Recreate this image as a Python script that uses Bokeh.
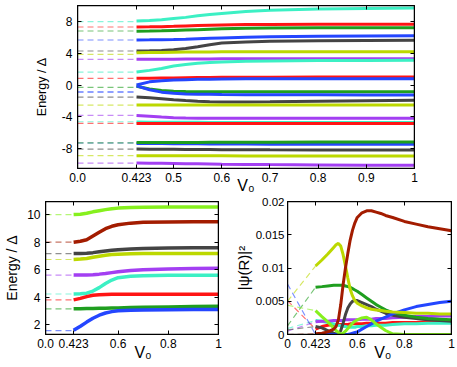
from bokeh.plotting import figure
from bokeh.layouts import column, row
from bokeh.models import FixedTicker, Range1d, LinearAxis, BoxAnnotation
from bokeh.embed import file_html
from bokeh.resources import INLINE

FONT = "Liberation Sans"
BREAK = 0.423

# ---------------- data ----------------
# V0 samples for energy panels
V0_E = [0.423, 0.45, 0.475, 0.5, 0.525, 0.55, 0.575, 0.6, 0.65, 0.7, 0.8, 0.9, 1.0]

# top panel: energy at V0 = 0 (dashed) and curves for V0 >= 0.423
TOP_E0 = [8.0, 7.33, 6.83, 5.69, 4.3, 3.88, 3.25, 1.64, 0.85, -0.88, -0.3,
          -0.88, -1.52, -2.53, -3.84, -4.64, -4.85, -7.33, -7.3, -8.09, -8.93, -9.86]
top_aqua_a = [8.1, 8.15, 8.25, 8.4, 8.55, 8.75, 8.9, 9.05, 9.3, 9.45, 9.6, 9.68, 9.72]
top_red_a = [7.33, 7.35, 7.38, 7.42, 7.47, 7.52, 7.56, 7.6, 7.64, 7.66, 7.67, 7.67, 7.67]
top_green_a = [6.8, 6.82, 6.85, 6.9, 6.95, 7.0, 7.05, 7.1, 7.17, 7.2, 7.23, 7.24, 7.25]
top_blue_a = [5.7, 5.71, 5.73, 5.76, 5.8, 5.85, 5.9, 5.95, 6.03, 6.1, 6.17, 6.21, 6.23]
top_gray_a = [4.3, 4.32, 4.37, 4.47, 4.62, 4.85, 5.1, 5.3, 5.45, 5.52, 5.58, 5.62, 5.65]
top_yellow_a = [4.08, 4.1, 4.12, 4.14, 4.16, 4.17, 4.18, 4.19, 4.2, 4.2, 4.2, 4.2, 4.2]
top_purple_a = [3.25, 3.25, 3.26, 3.27, 3.28, 3.29, 3.3, 3.31, 3.32, 3.32, 3.33, 3.33, 3.33]
top_aqua_b = [1.64, 1.85, 2.1, 2.4, 2.6, 2.75, 2.85, 2.92, 3.0, 3.05, 3.09, 3.11, 3.12]
top_red_b = [0.85, 0.86, 0.88, 0.9, 0.92, 0.94, 0.96, 0.97, 0.98, 0.99, 1.0, 1.0, 1.0]
top_blue_b = [0.0, 0.4, 0.55, 0.63, 0.68, 0.72, 0.74, 0.76, 0.78, 0.79, 0.8, 0.8, 0.8]
top_green_b = [-0.15, -0.5, -0.68, -0.78, -0.82, -0.84, -0.85, -0.85, -0.85, -0.85, -0.85, -0.85, -0.85]
top_blue_c = [-0.1, -0.6, -0.9, -1.05, -1.12, -1.16, -1.18, -1.2, -1.22, -1.23, -1.24, -1.25, -1.26]
top_gray_b = [-1.52, -1.6, -1.72, -1.85, -1.97, -2.06, -2.12, -2.15, -2.15, -2.12, -2.05, -1.99, -1.94]
top_yellow_b = [-2.52, -2.52, -2.52, -2.52, -2.52, -2.52, -2.52, -2.52, -2.52, -2.52, -2.52, -2.52, -2.52]
top_purple_b = [-3.86, -3.95, -4.05, -4.13, -4.18, -4.2, -4.21, -4.21, -4.21, -4.2, -4.2, -4.2, -4.2]
top_aqua_c = [-4.68, -4.69, -4.7, -4.71, -4.72, -4.72, -4.73, -4.73, -4.74, -4.74, -4.75, -4.75, -4.75]
top_red_c = [-4.85, -4.85, -4.85, -4.85, -4.85, -4.85, -4.85, -4.85, -4.85, -4.85, -4.85, -4.85, -4.85]
top_blue_d = [-7.38, -7.39, -7.4, -7.41, -7.42, -7.43, -7.44, -7.45, -7.46, -7.47, -7.48, -7.49, -7.5]
top_green_c = [-7.27, -7.27, -7.26, -7.26, -7.25, -7.25, -7.24, -7.24, -7.23, -7.22, -7.21, -7.2, -7.2]
top_gray_c = [-8.1, -8.11, -8.12, -8.13, -8.14, -8.15, -8.16, -8.17, -8.18, -8.19, -8.2, -8.2, -8.2]
top_yellow_c = [-8.93, -8.93, -8.94, -8.94, -8.94, -8.95, -8.95, -8.95, -8.96, -8.96, -8.97, -8.97, -8.97]
top_purple_c = [-9.87, -9.88, -9.9, -9.92, -9.94, -9.96, -9.98, -10.0, -10.03, -10.06, -10.1, -10.13, -10.15]

# lower-left panel
BL_E0 = [10.0, 8.0, 7.17, 6.74, 5.61, 4.24, 3.81, 3.16, 1.58]
bl_lime = [10.0, 10.03, 10.1, 10.2, 10.28, 10.36, 10.42, 10.47, 10.52, 10.54, 10.55, 10.55, 10.55]
bl_dkred = [8.0, 8.07, 8.18, 8.45, 8.72, 8.98, 9.15, 9.26, 9.38, 9.44, 9.47, 9.48, 9.48]
bl_gray = [7.17, 7.18, 7.2, 7.24, 7.3, 7.36, 7.41, 7.45, 7.5, 7.54, 7.57, 7.59, 7.6]
bl_yellow = [6.74, 6.77, 6.82, 6.9, 6.98, 7.05, 7.1, 7.13, 7.16, 7.17, 7.17, 7.17, 7.17]
bl_purple = [5.61, 5.61, 5.62, 5.64, 5.68, 5.73, 5.79, 5.85, 5.94, 6.0, 6.06, 6.09, 6.11]
bl_aqua = [4.24, 4.25, 4.3, 4.45, 4.7, 5.0, 5.25, 5.42, 5.53, 5.57, 5.59, 5.59, 5.59]
bl_red = [3.81, 3.92, 4.05, 4.15, 4.19, 4.21, 4.22, 4.22, 4.22, 4.22, 4.22, 4.22, 4.22]
bl_green = [3.16, 3.17, 3.18, 3.19, 3.2, 3.21, 3.22, 3.23, 3.25, 3.27, 3.3, 3.33, 3.35]
bl_blue = [1.6, 1.9, 2.2, 2.48, 2.7, 2.86, 2.96, 3.02, 3.06, 3.08, 3.1, 3.11, 3.12]

# lower-right panel: |psi(R)|^2
V0_P = [0.423, 0.45, 0.475, 0.5, 0.51, 0.52, 0.53, 0.54, 0.55, 0.56, 0.57, 0.58, 0.59,
        0.6, 0.62, 0.64, 0.66, 0.68, 0.7, 0.72, 0.75, 0.8, 0.85, 0.9, 0.95, 1.0]
BR_P0 = [0.0051, 0.0009, 0.0005, 0.0007, 0.0013, 0.0076, 0.0044, 0.005, 0.0]
br_red = [0.0008, 0.0012, 0.0014, 0.0015, 0.0015, 0.0015, 0.0015, 0.0015, 0.0015, 0.0015, 0.0016, 0.0016, 0.0016,
          0.0016, 0.0016, 0.0017, 0.0017, 0.0017, 0.0017, 0.0017, 0.0018, 0.0018, 0.0018, 0.0019, 0.0019, 0.0019]
br_aqua = [0.0021, 0.002, 0.0018, 0.0016, 0.0015, 0.0014, 0.0013, 0.0012, 0.0012, 0.0011, 0.0011, 0.0011, 0.0011,
           0.0012, 0.0012, 0.0013, 0.0013, 0.0014, 0.0014, 0.0014, 0.0015, 0.0016, 0.0016, 0.0017, 0.0017, 0.0017]
br_purple = [0.0019, 0.002, 0.002, 0.0021, 0.0021, 0.0021, 0.0021, 0.0021, 0.0022, 0.0022, 0.0022, 0.0022, 0.0022,
             0.0022, 0.0023, 0.0023, 0.0023, 0.0024, 0.0024, 0.0024, 0.0025, 0.0026, 0.0027, 0.0027, 0.0028, 0.0028]
br_gray = [0.0012, 0.001, 0.0006, 0.0002, 0.0001, 0.0001, 0.0006, 0.0017, 0.003, 0.004, 0.0046, 0.005, 0.0051,
           0.0051, 0.0048, 0.0045, 0.0042, 0.0038, 0.0035, 0.0032, 0.0029, 0.0026, 0.0024, 0.0022, 0.0021, 0.002]
br_green = [0.0071, 0.0072, 0.0073, 0.0074, 0.0074, 0.0074, 0.0074, 0.0074, 0.0073, 0.0072, 0.0071, 0.0069, 0.0067,
            0.0065, 0.006, 0.0055, 0.005, 0.0045, 0.0041, 0.0037, 0.0033, 0.0029, 0.0026, 0.0024, 0.0023, 0.0022]
br_blue = [0.0, 0.0, 0.0, 0.0, 0.0, 0.0, 0.0, 0.0, 0.0, 0.0, 0.0001, 0.0002, 0.0003,
           0.0004, 0.0008, 0.0012, 0.0016, 0.002, 0.0023, 0.0026, 0.0031, 0.0037, 0.0042, 0.0045, 0.0048, 0.005]
br_lime = [0.0036, 0.0027, 0.0019, 0.001, 0.0006, 0.0003, 0.0, 0.0002, 0.0005, 0.0009, 0.0013, 0.0017, 0.002,
           0.0022, 0.0025, 0.0026, 0.0022, 0.0016, 0.0011, 0.0006, 0.0001, 0.0, 0.0, 0.0, 0.0, 0.0]
br_yellow = [0.0103, 0.0112, 0.0121, 0.0131, 0.0135, 0.0137, 0.0133, 0.012, 0.0103, 0.0085, 0.0068, 0.0058, 0.0051,
             0.0047, 0.0043, 0.004, 0.0038, 0.0037, 0.0036, 0.0035, 0.0034, 0.0033, 0.0032, 0.0032, 0.0031, 0.0031]
br_dkred = [0.0001, 0.0002, 0.0004, 0.0008, 0.0012, 0.0022, 0.0045, 0.0075, 0.01, 0.0122, 0.0142, 0.0157, 0.0168,
            0.0176, 0.0183, 0.0186, 0.0186, 0.0184, 0.0182, 0.0179, 0.0176, 0.017, 0.0166, 0.0162, 0.0159, 0.0156]

# tick labels
TOP_XT = [0.0, 0.423, 0.5, 0.6, 0.7, 0.8, 0.9, 1.0]
TOP_XL = ["0.0", "0.423", "0.5", "0.6", "0.7", "0.8", "0.9", "1"]
TOP_YT = [-8, -4, 0, 4, 8]
TOP_YL = ["-8", "-4", "0", "4", "8"]
BL_XT = [0.0, 0.423, 0.6, 0.8, 1.0]
BL_XL = ["0.0", "0.423", "0.6", "0.8", "1"]
BL_YT = [2, 4, 6, 8, 10]
BL_YL = ["2", "4", "6", "8", "10"]
BR_XT = [0.0, 0.423, 0.6, 0.8, 1.0]
BR_XL = ["0", "0.423", "0.6", "0.8", "1"]
BR_YT = [0.0, 0.005, 0.01, 0.015, 0.02]
BR_YL = ["0", "0.005", "0.01", "0.015", "0.02"]

# ---------------- styles ----------------
AQUA = "#3cf0c4"
RED = "#ff1414"
GREEN = "#1f9e1f"
BLUE = "#2446ff"
GRAY = "#444444"
YELLOW = "#bcd800"
PURPLE = "#a33ff2"
DKRED = "#a31c00"
LIME = "#86f01e"

TOP_SERIES = [top_aqua_a, top_red_a, top_green_a, top_blue_a, top_gray_a, top_yellow_a, top_purple_a,
              top_aqua_b, top_red_b, top_blue_b, top_green_b, top_blue_c, top_gray_b, top_yellow_b,
              top_purple_b, top_aqua_c, top_red_c, top_blue_d, top_green_c, top_gray_c, top_yellow_c,
              top_purple_c]
TOP_COLORS = [AQUA, RED, GREEN, BLUE, GRAY, YELLOW, PURPLE, AQUA, RED, BLUE, GREEN, BLUE, GRAY, YELLOW,
              PURPLE, AQUA, RED, BLUE, GREEN, GRAY, YELLOW, PURPLE]
BL_SERIES = [bl_lime, bl_dkred, bl_gray, bl_yellow, bl_purple, bl_aqua, bl_red, bl_green, bl_blue]
BL_COLORS = [LIME, DKRED, GRAY, YELLOW, PURPLE, AQUA, RED, GREEN, BLUE]
BR_SERIES = [br_red, br_aqua, br_purple, br_gray, br_green, br_blue, br_lime, br_yellow, br_dkred]
BR_COLORS = [RED, AQUA, PURPLE, GRAY, GREEN, BLUE, LIME, YELLOW, DKRED]

NB = "\u00a0"


def to_u(v, gap):
    # compressed segment 0..0.423, then linear
    return v * gap / BREAK if v <= BREAK else gap + (v - BREAK)


def style_axis(ax, ticks, labels, size, std, show=True):
    ax.ticker = FixedTicker(ticks=ticks)
    ax.major_tick_in = 4
    ax.major_tick_out = 0
    ax.minor_tick_line_color = None
    ax.major_tick_line_color = "black"
    ax.axis_line_color = "black"
    ax.major_label_text_font = FONT
    ax.major_label_text_color = "black"
    if show:
        ax.major_label_overrides = {t: l for t, l in zip(ticks, labels)}
        ax.major_label_text_font_size = size
        ax.major_label_standoff = std
    else:
        ax.major_label_overrides = {t: "" for t in ticks}
        ax.major_label_text_font_size = "1px"
        ax.major_label_standoff = 0


def panel(w, h, bl, br, bt, bb, gap, yr, xt, xl, yt, yl, xsize, ysize, ystd,
          ylab, ylab_size, ylab_std, xlab, xlab_size, xlab_std):
    umax = to_u(1.0, gap)
    p = figure(width=w, height=h, min_border_left=bl, min_border_right=br,
               min_border_top=bt, min_border_bottom=bb, x_range=Range1d(0, umax),
               y_range=Range1d(*yr), output_backend="svg", toolbar_location=None)
    p.grid.visible = False
    p.outline_line_color = "black"
    p.outline_line_alpha = 1
    p.outline_line_width = 1
    xa = p.below[0]
    ya = p.left[0]
    xticks = [to_u(v, gap) for v in xt]
    style_axis(xa, xticks, xl, xsize, 4)
    style_axis(ya, yt, yl, ysize, ystd)
    top = LinearAxis()
    style_axis(top, xticks, xl, xsize, 0, show=False)
    right = LinearAxis()
    style_axis(right, yt, yl, ysize, 0, show=False)
    p.add_layout(top, "above")
    p.add_layout(right, "right")
    p.add_layout(BoxAnnotation(fill_alpha=0, line_color="black", line_width=1.5, line_alpha=1))
    ya.axis_label = ylab
    ya.axis_label_text_font = FONT
    ya.axis_label_text_font_size = ylab_size
    ya.axis_label_text_font_style = "normal"
    ya.axis_label_text_color = "black"
    ya.axis_label_standoff = ylab_std
    xa.axis_label = xlab
    xa.axis_label_text_font = FONT
    xa.axis_label_text_font_size = xlab_size
    xa.axis_label_text_font_style = "normal"
    xa.axis_label_text_color = "black"
    xa.axis_label_standoff = xlab_std
    return p


def draw_energy(p, gap, e0s, series, colors, grid, width):
    ub = to_u(BREAK, gap)
    for e0, c in zip(e0s, colors):
        p.line([0.0, ub], [e0, e0], line_color=c, line_width=1.2, line_alpha=0.6, line_dash="6 4")
    for s, c in zip(series, colors):
        p.line([to_u(v, gap) for v in grid], s, line_color=c, line_width=width)


# ---------------- top panel ----------------
T_GAP = 0.1225
ptop = panel(420, 197, 77, 6, 5, 29, T_GAP, (-10.55, 10.05), TOP_XT, TOP_XL, TOP_YT, TOP_YL,
             "12px", "12px", 5, "Energy / \u0394", "12.5px", 10, "V\u2080", "16px", -8)
draw_energy(ptop, T_GAP, TOP_E0, TOP_SERIES, TOP_COLORS, V0_E, 3)

# ---------------- bottom-left panel ----------------
L_GAP = 0.112
pbl = panel(231, 170, 45, 13, 4, 33, L_GAP, (1.3, 10.95), BL_XT, BL_XL, BL_YT, BL_YL,
            "12px", "12px", 5, "Energy / \u0394", "14px", 4, NB * 5 + "V\u2080", "16px", -7)
draw_energy(pbl, L_GAP, BL_E0, BL_SERIES, BL_COLORS, V0_E, 3.5)

# ---------------- bottom-right panel ----------------
R_GAP = 0.119
pbr = panel(226, 170, 51, 6, 4, 33, R_GAP, (0.0, 0.02), BR_XT, BR_XL, BR_YT, BR_YL,
            "12px", "11.5px", 3, "|\u03c8(R)|\u00b2", "15px", 1, NB * 6 + "V\u2080", "16px", -7)
ub = to_u(BREAK, R_GAP)
for p0, s, c in zip(BR_P0, BR_SERIES, BR_COLORS):
    pbr.line([0.0, ub], [p0, s[0]], line_color=c, line_width=1.2, line_alpha=0.6, line_dash="6 4")
for s, c in zip(BR_SERIES, BR_COLORS):
    pbr.line([to_u(v, R_GAP) for v in V0_P], s, line_color=c, line_width=3)

layout = column(ptop, row(pbl, pbr, spacing=0), spacing=0)

open("out.html", "w").write(file_html(layout, INLINE))
